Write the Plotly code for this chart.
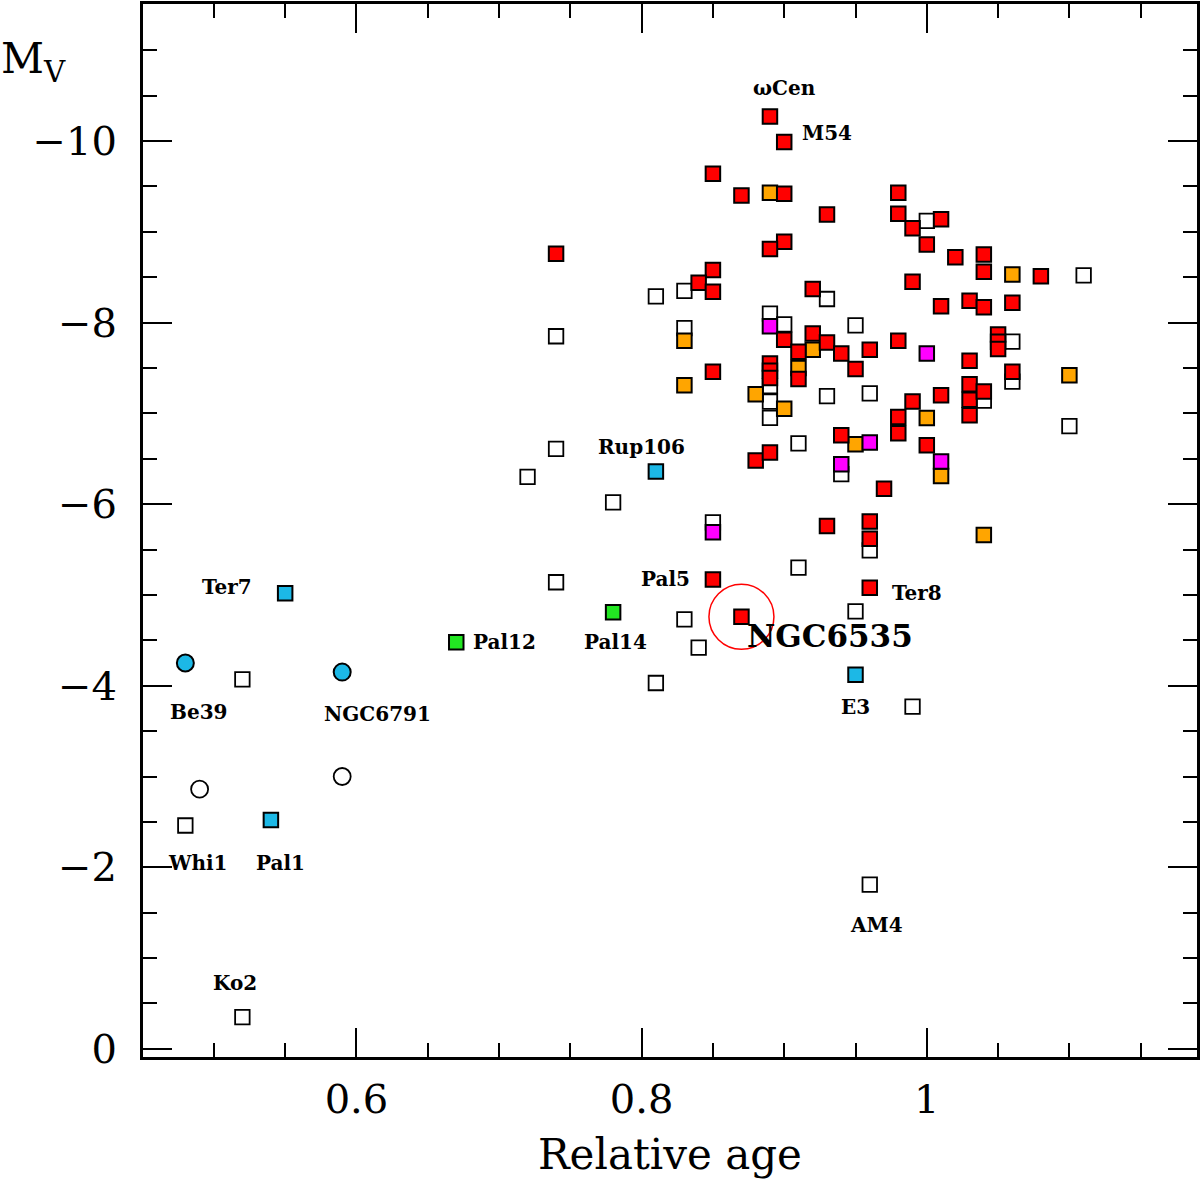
import plotly.graph_objects as go

# relative age (x) and absolute magnitude M_V (y) by group
red_x = [0.89, 0.90, 0.85, 0.87, 0.90, 0.93, 0.74, 0.90, 0.89, 0.85, 0.84, 0.85,
         0.92, 0.90, 0.91, 0.92, 0.93, 0.94, 0.95, 0.96, 0.98, 0.85, 0.89, 0.89,
         0.89, 0.91, 0.88, 0.89, 0.94, 0.97, 0.93, 0.96, 0.96, 0.85, 0.87, 0.96,
         0.98, 0.98, 1.01, 0.99, 1.00, 1.02, 1.04, 1.04, 1.08, 0.99, 1.01, 1.03,
         1.04, 1.06, 1.05, 1.05, 1.05, 1.03, 1.06, 1.01, 1.03, 1.03, 1.03, 1.04,
         0.99, 0.98, 0.98, 1.00]
red_y = [-10.27, -9.99, -9.64, -9.40, -9.42, -9.19, -8.76, -8.89, -8.81, -8.58, -8.44, -8.34,
         -8.37, -7.81, -7.68, -7.88, -7.78, -7.66, -7.49, -7.70, -7.80, -7.46, -7.55, -7.47,
         -7.39, -7.38, -6.48, -6.57, -6.76, -6.17, -5.76, -5.81, -5.62, -5.17, -4.76, -5.08,
         -9.43, -9.20, -9.14, -9.04, -8.86, -8.72, -8.75, -8.56, -8.51, -8.45, -8.18, -8.24,
         -8.17, -8.22, -7.87, -7.79, -7.71, -7.58, -7.46, -7.20, -7.32, -7.15, -6.98, -7.24,
         -7.13, -6.96, -6.78, -6.65]

orange_x = [0.89, 0.83, 0.83, 0.92, 0.91, 0.88, 0.90, 0.95, 1.00, 1.01, 1.04, 1.06, 1.10]
orange_y = [-9.43, -7.80, -7.31, -7.70, -7.50, -7.21, -7.05, -6.66, -6.95, -6.31, -5.66, -8.53, -7.42]

magenta_x = [0.89, 1.00, 0.96, 0.94, 1.01, 0.85]
magenta_y = [-7.96, -7.66, -6.68, -6.44, -6.47, -5.69]

white_x = [0.72, 0.74, 0.74, 0.74, 0.78, 0.81, 0.83, 0.83, 0.81, 0.83, 0.84, 0.89,
           0.90, 0.89, 0.89, 0.89, 0.93, 0.93, 0.91, 0.91, 0.95, 0.96, 0.94, 0.85,
           0.96, 0.95, 0.99, 0.96, 1.00, 1.06, 1.06, 1.04, 1.10, 1.11, 0.52, 0.48, 0.52]
white_y = [-6.30, -6.61, -7.85, -5.14, -6.02, -8.29, -8.35, -7.94, -4.03, -4.73, -4.42, -8.10,
           -7.98, -7.30, -7.13, -6.95, -8.26, -7.19, -6.67, -5.30, -7.97, -7.22, -6.33, -5.80,
           -5.49, -4.82, -3.77, -1.81, -9.12, -7.79, -7.35, -7.14, -6.86, -8.52, -4.07, -2.46, -0.35]

cyan_x = [0.81, 0.55, 0.95, 0.54]
cyan_y = [-6.36, -5.02, -4.12, -2.52]

green_x = [0.67, 0.78]
green_y = [-4.48, -4.81]

cyan_circ_x = [0.48, 0.59]
cyan_circ_y = [-4.25, -4.15]

white_circ_x = [0.59, 0.49]
white_circ_y = [-3.00, -2.86]

ngc6535 = (0.87, -4.76)

# cluster names and where they are written
names = ["ωCen", "M54", "Rup106", "Ter7", "Pal12", "Pal14", "Pal5", "Ter8",
         "E3", "AM4", "Be39", "NGC6791", "Whi1", "Pal1", "Ko2"]
name_x = [0.900, 0.930, 0.800, 0.509, 0.704, 0.782, 0.817, 0.993,
          0.950, 0.965, 0.489, 0.615, 0.489, 0.547, 0.515]
name_y = [-10.58, -10.09, -6.63, -5.09, -4.48, -4.48, -5.18, -5.02,
          -3.77, -1.36, -3.71, -3.69, -2.05, -2.05, -0.72]

FONT = "DejaVu Serif"

fig = go.Figure()


def add(xs, ys, color, symbol="square", size=14.5, lw=2):
    fig.add_trace(go.Scatter(
        x=xs, y=ys, mode="markers",
        marker=dict(symbol=symbol, size=size, color=color,
                    line=dict(color="black", width=lw)),
        hoverinfo="x+y",
    ))


add(white_x, white_y, "white", lw=1.8)
add(orange_x, orange_y, "#ffa500")
add(magenta_x, magenta_y, "#ff00ff")
add(red_x, red_y, "#ff0000")
add(cyan_x, cyan_y, "#1cb8e6")
add(green_x, green_y, "#22e622")
add(cyan_circ_x, cyan_circ_y, "#1cb8e6", symbol="circle", size=17)
add(white_circ_x, white_circ_y, "white", symbol="circle", size=17, lw=1.8)

# red ring around NGC 6535
fig.add_shape(type="circle", xref="x", yref="y",
              xsizemode="pixel", ysizemode="pixel",
              xanchor=ngc6535[0], yanchor=ngc6535[1],
              x0=-32.5, x1=32.5, y0=-32.5, y1=32.5,
              line=dict(color="red", width=1.5))

for n, lx, ly in zip(names, name_x, name_y):
    fig.add_annotation(x=lx, y=ly, text=n, showarrow=False,
                       font=dict(family=FONT, size=20, color="black", weight="bold"))

fig.add_annotation(x=0.932, y=-4.55, text="NGC6535", showarrow=False,
                   font=dict(family=FONT, size=31, color="black", weight="bold"))

fig.add_annotation(xref="paper", yref="paper", x=-0.1365, y=0.945,
                   xanchor="left", yanchor="middle", showarrow=False,
                   text="M<sub>V</sub>",
                   font=dict(family=FONT, size=42, color="black"))

axis_common = dict(
    showgrid=False, zeroline=False, automargin=False,
    showline=True, linecolor="black", linewidth=3, mirror="allticks",
    ticks="inside", ticklen=29, tickwidth=2, tickcolor="black",
    tickfont=dict(family=FONT, size=40, color="black"),
)

fig.update_layout(
    width=1200, height=1179,
    margin=dict(l=143, r=3, t=4, b=122),
    plot_bgcolor="white", paper_bgcolor="white",
    showlegend=False,
    xaxis=dict(
        range=[0.4503, 1.1895], tick0=0, dtick=0.2,
        minor=dict(ticks="inside", ticklen=14, tickwidth=2, tickcolor="black", dtick=0.05),
        ticklabelstandoff=5,
        title=dict(text="Relative age", font=dict(family=FONT, size=42, color="black"),
                   standoff=20),
        **axis_common,
    ),
    yaxis=dict(
        range=[0.09, -11.51], tick0=0, dtick=2,
        minor=dict(ticks="inside", ticklen=14, tickwidth=2, tickcolor="black", dtick=0.5),
        ticklabelstandoff=15,
        **axis_common,
    ),
)

# drop the browser's default page margin so the figure sits at the top-left corner
fig.write_html("out.html", config={"displayModeBar": False},
               post_script="document.body.style.margin='0px';")
